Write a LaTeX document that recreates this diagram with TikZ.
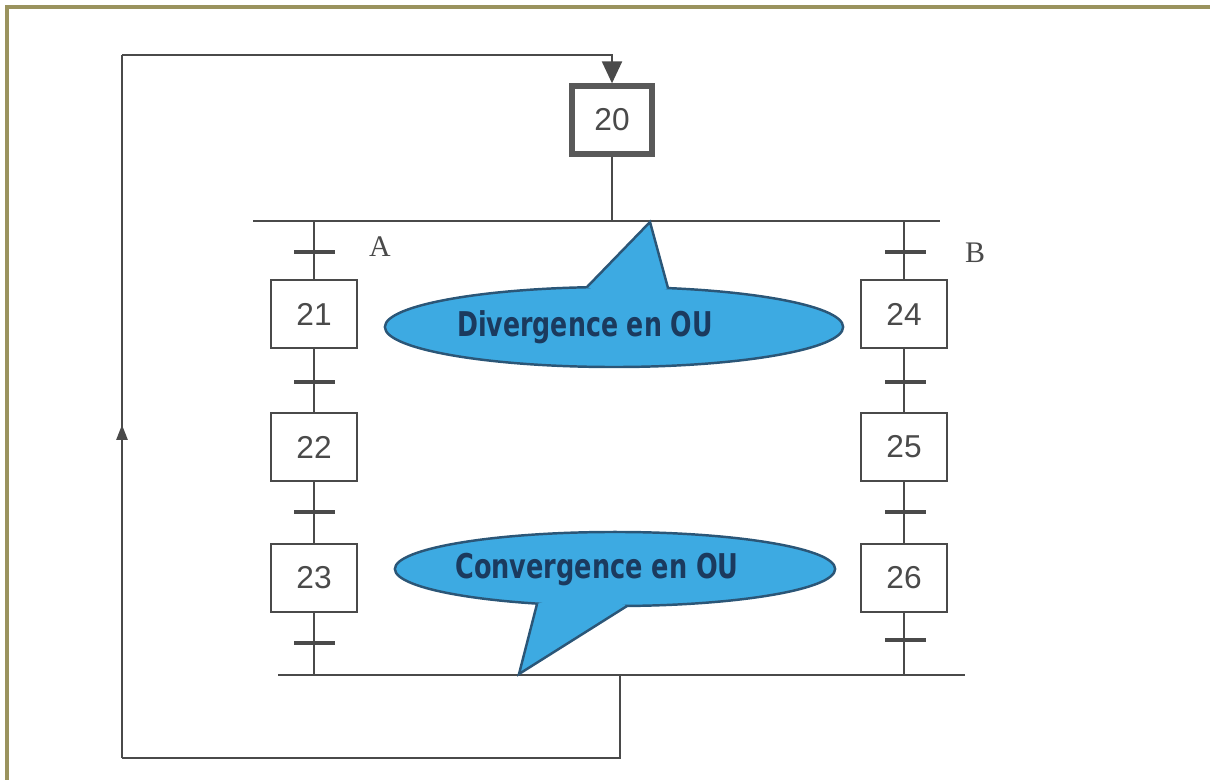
\documentclass[tikz,border=0pt]{standalone}
\usepackage{fontspec}
\setmainfont{Liberation Sans}
\newfontfamily\letterfont{Liberation Serif}
\newfontfamily\calloutfont{DejaVu Sans}
\usetikzlibrary{arrows.meta,decorations.markings}

\definecolor{framecol}{HTML}{9A935E}
\definecolor{inkgray}{HTML}{4A4A4A}
\definecolor{bubblefill}{HTML}{3DAAE2}
\definecolor{bubbleline}{HTML}{2B5677}
\definecolor{bubbletext}{HTML}{1B3A5E}

\begin{document}
\begin{tikzpicture}[x=0.01cm,y=-0.01cm,
  stepbox/.style={draw=inkgray, line width=0.75pt, fill=white,
    minimum width=0.86cm, minimum height=0.68cm, inner sep=0pt,
    font=\fontsize{9}{10}\selectfont, text=inkgray},
  initbox/.style={stepbox, line width=1.5pt, draw=black!65, minimum width=0.8cm},
  wire/.style={draw=inkgray, line width=0.65pt},
  trans/.style={draw=inkgray, line width=0.9pt},
  bubble/.style={fill=bubblefill, draw=bubbleline, line width=0.7pt},
  bubbletxt/.style={font=\calloutfont\bfseries\fontsize{9.7}{11}\selectfont,
    text=bubbletext, inner sep=0pt},
  letter/.style={font=\letterfont\fontsize{8.5}{10}\selectfont, text=inkgray}
]
\useasboundingbox (0,0) rectangle (1210,780);

% page frame
\draw[framecol, line width=0.9pt] (7,780) -- (7,7) -- (1210,7);

% steps
\node[initbox] (s20) at (612,120) {20};
\node[stepbox] (s21) at (314,314) {21};
\node[stepbox] (s22) at (314,447) {22};
\node[stepbox] (s23) at (314,578) {23};
\node[stepbox] (s24) at (904,314) {24};
\node[stepbox] (s25) at (904,447) {25};
\node[stepbox] (s26) at (904,578) {26};

% OR divergence / convergence bars
\coordinate (divL) at (253,221);
\coordinate (divR) at (940,221);
\coordinate (conL) at (278,675);
\coordinate (conR) at (965,675);
\coordinate (cj) at (620,675);
\draw[wire] (divL) -- (divR);
\draw[wire] (conL) -- (conR);

% branch links
\draw[wire] (s20.south) -- (s20.south |- divL);
\draw[wire] (s21.north |- divL) -- (s21.north);
\draw[wire] (s21) -- (s22);
\draw[wire] (s22) -- (s23);
\draw[wire] (s23.south) -- (s23.south |- conL);
\draw[wire] (s24.north |- divR) -- (s24.north);
\draw[wire] (s24) -- (s25);
\draw[wire] (s25) -- (s26);
\draw[wire] (s26.south) -- (s26.south |- conR);

% transitions
\foreach \ty in {252,382,512,643}{
  \draw[trans] (294,\ty) -- (335,\ty);
}
\foreach \ty in {252,382,512,640}{
  \draw[trans] (885,\ty) -- (926,\ty);
}

% branch labels
\node[letter] (lA) at (380,247) {A};
\node[letter] (lB) at (975,253) {B};

% return loop
\coordinate (lb) at (122,758);
\coordinate (lt) at (122,55);
\draw[wire] (cj) |- (lb);
\draw[wire, postaction={decorate}, decoration={markings,
    mark=at position 0.474 with {\arrow{Triangle[length=0.15cm,width=0.11cm]}}}]
  (lb) -- (lt);
\draw[wire, -{Triangle[length=0.22cm,width=0.2cm]}] (lt) -| (s20.north);

% callout: divergence
\path[bubble] (614,327) ellipse [x radius=2.29cm, y radius=0.4cm];
\fill[bubblefill] (587,287) -- (650,222) -- (668,288) -- (630,305) -- cycle;
\draw[bubbleline, line width=0.7pt] (587,287) -- (650,222) -- (668,288);
\node[bubbletxt] (tdiv) at (585,327) {\scalebox{0.74}[1]{Divergence en OU}};

% callout: convergence
\path[bubble] (615,569) ellipse [x radius=2.2cm, y radius=0.37cm];
\fill[bubblefill] (537,604) -- (519,674) -- (627,606) -- (580,590) -- cycle;
\draw[bubbleline, line width=0.7pt] (537,604) -- (519,674) -- (627,606);
\node[bubbletxt] (tcon) at (597,570) {\scalebox{0.75}[1]{Convergence en OU}};
\end{tikzpicture}
\end{document}
